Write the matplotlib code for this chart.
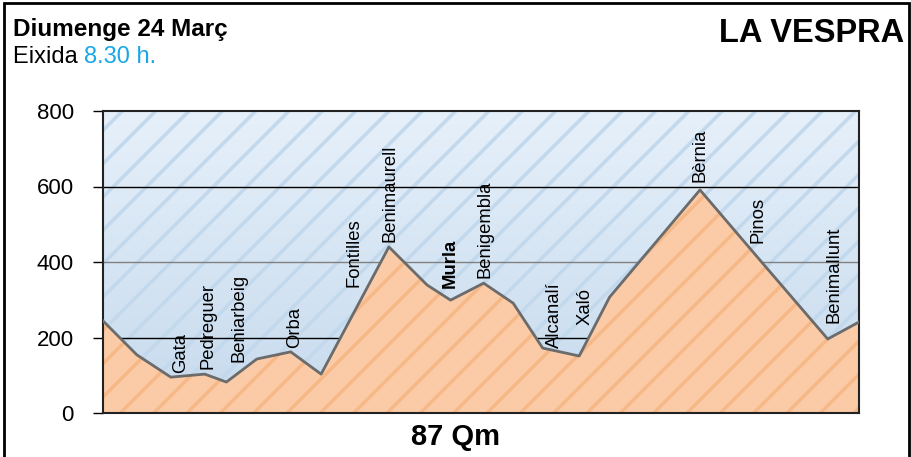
import numpy as np
import matplotlib
matplotlib.use('Agg')
import matplotlib.pyplot as plt
from matplotlib.colors import LinearSegmentedColormap
from matplotlib.patches import Rectangle

# perfil de la ruta (km, metres)
km = [0, 3.9, 7.8, 11.7, 14.2, 17.7, 21.6, 25.1, 32.9, 37.3, 40.0, 43.8,
      47.2, 50.6, 54.8, 58.3, 68.7, 75.9, 83.4, 87]
alcada = [244, 154, 95, 103, 82, 143, 162, 103, 440, 339, 299, 344,
          291, 172, 151, 307, 591, 397, 196, 241]

# pobles i on van les etiquetes
pobles = ['Gata', 'Pedreguer', 'Beniarbeig', 'Orba', 'Fontilles', 'Benimaurell',
          'Murla', 'Benigembla', 'Alcanalí', 'Xaló', 'Bèrnia', 'Pinos', 'Benimallunt']
pobles_km = [8.9, 12.1, 15.6, 22.1, 28.9, 33.0, 40.0, 44.0, 52.0, 55.5, 68.7, 75.4, 84.1]
pobles_alt = [106, 117, 135, 172, 334, 453, 331, 358, 172, 233, 612, 450, 238]

yticks = [0, 200, 400, 600, 800]

plt.rcParams['font.family'] = ['Liberation Sans', 'DejaVu Sans']
plt.rcParams['hatch.linewidth'] = 2.5

W, H = 912, 457
fig = plt.figure(figsize=(W / 100, H / 100), dpi=100)
ax = fig.add_axes([103 / W, (H - 413) / H, 756 / W, 302 / H])

# fons blau degradat
cel = LinearSegmentedColormap.from_list('cel', ['#c6daed', '#e6f0fa'])
grad = np.linspace(0, 1, 256).reshape(-1, 1)
ax.imshow(grad, cmap=cel, origin='lower', aspect='auto',
          extent=[0, 87, 0, 800], zorder=0)
ax.fill_between([0, 87], 0, 800, facecolor='none', edgecolor='#c2d8ec',
                linewidth=0, hatch='/', zorder=1)

# linies horitzontals
for y, c in zip([200, 400, 600], ['black', '#808080', 'black']):
    ax.axhline(y, color=c, lw=1, zorder=1.5)

# muntanya
ax.fill_between(km, 0, alcada, facecolor='#fbcba7', edgecolor='#f7b887',
                linewidth=0, hatch='/', zorder=2)
ax.plot(km, alcada, color='#6b6b6b', lw=2, zorder=3)

for nom, x, y in zip(pobles, pobles_km, pobles_alt):
    pes = 'bold' if nom == 'Murla' else 'normal'
    ax.text(x, y, nom, rotation=90, ha='center', va='bottom',
            fontsize=13.3, fontweight=pes, zorder=4)

ax.set_xlim(0, 87)
ax.set_ylim(0, 800)
ax.set_xticks([])
ax.set_yticks(yticks)
ax.tick_params(axis='y', length=7, width=1, pad=14, labelsize=16)
for s in ax.spines.values():
    s.set_color('#222222')
    s.set_linewidth(1.5)

# textos de capçalera
fig.text(13 / W, 1 - 36 / H, 'Diumenge 24 Març', fontsize=17.5,
         fontweight='bold', ha='left', va='baseline')
t = fig.text(13 / W, 1 - 63 / H, 'Eixida ', fontsize=17, ha='left', va='baseline')
fig.canvas.draw()
bb = t.get_window_extent()
fig.text(bb.x1 / W, 1 - 63 / H, '8.30 h.', fontsize=17, color='#1aa7e6',
         ha='left', va='baseline')
fig.text(904 / W, 1 - 42 / H, 'LA VESPRA', fontsize=23.5, fontweight='bold',
         ha='right', va='baseline')
fig.text(456 / W, 1 - 445 / H, '87 Qm', fontsize=21, fontweight='bold',
         ha='center', va='baseline')

# marc exterior
fig.patches.append(Rectangle((4 / W, -0.05), 905 / W, 1.05 - 3 / H,
                             transform=fig.transFigure, fill=False,
                             edgecolor='black', lw=2))

fig.savefig('out.png', dpi=100)
